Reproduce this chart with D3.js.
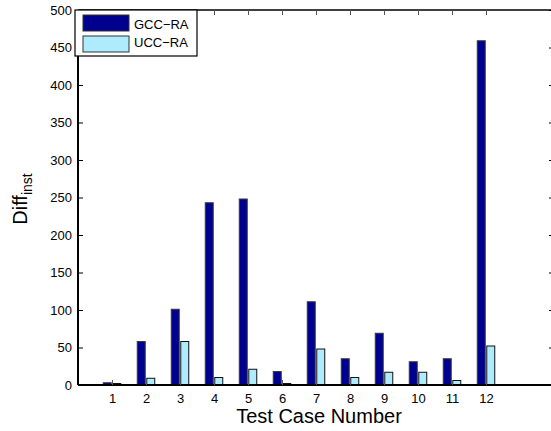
<!DOCTYPE html>
<html>
<head>
<meta charset="utf-8">
<script src="https://cdn.jsdelivr.net/npm/d3@7"></script>
<style>
  html, body { margin: 0; padding: 0; background: #fff; }
  svg { display: block; font-family: "Liberation Sans", Arial, Helvetica, sans-serif; }
</style>
</head>
<body>
<svg id="chart" width="551" height="431"></svg>
<script>
const categories = [1, 2, 3, 4, 5, 6, 7, 8, 9, 10, 11, 12];
const gccRA = [3, 58, 101, 243, 248, 18, 111, 35, 69, 31, 35, 459];
const uccRA = [2, 9, 58, 10, 21, 2, 48, 10, 17, 17, 6, 52];
const seriesNames = ["GCC\u2212RA", "UCC\u2212RA"];
const seriesColors = ["#00008F", "#AEEBFC"];
const yTicks = [0, 50, 100, 150, 200, 250, 300, 350, 400, 450, 500];

const svg = d3.select("#chart");
const L = 78, R = 554, T = 10, B = 385;

const x = d3.scaleLinear().domain([0, 14]).range([L, R]);
const y = d3.scaleLinear().domain([0, 500]).range([B, T]);

const barW = 0.235;
const off = 0.14;

const series = [gccRA, uccRA];
series.forEach((vals, si) => {
  svg.append("g").selectAll("rect")
    .data(categories.map((c, i) => ({ c, v: vals[i] })))
    .join("rect")
    .attr("x", d => x(d.c + (si === 0 ? -off : off) - barW / 2))
    .attr("width", x(barW) - x(0))
    .attr("y", d => y(d.v))
    .attr("height", d => y(0) - y(d.v))
    .attr("fill", seriesColors[si])
    .attr("stroke", si === 0 ? "#3a3a3a" : "#111")
    .attr("stroke-width", 1);
});

// axes lines
const axisG = svg.append("g");
axisG.append("line").attr("x1", L).attr("x2", R + 5).attr("y1", B).attr("y2", B)
  .attr("stroke", "#000").attr("stroke-width", 2);
axisG.append("line").attr("x1", L).attr("x2", R + 5).attr("y1", T).attr("y2", T)
  .attr("stroke", "#000").attr("stroke-width", 1.5);
axisG.append("line").attr("x1", L).attr("x2", L).attr("y1", T).attr("y2", B)
  .attr("stroke", "#000").attr("stroke-width", 2);

// y axis
const yAxis = d3.axisLeft(y).tickValues(yTicks).tickSizeInner(-5).tickSizeOuter(0).tickPadding(6);
const yg = svg.append("g").attr("transform", `translate(${L},0)`).call(yAxis);
yg.select(".domain").remove();
yg.selectAll("line").attr("stroke", "#000");
yg.selectAll("text").attr("font-size", 13).attr("font-family", "Liberation Sans, Arial, sans-serif").attr("fill", "#000");

// right ticks
const yr = d3.axisRight(y).tickValues(yTicks).tickSizeInner(-5).tickSizeOuter(0).tickFormat("");
const yrg = svg.append("g").attr("transform", `translate(${R},0)`).call(yr);
yrg.select(".domain").remove();
yrg.selectAll("line").attr("stroke", "#000");

// x axis
const xAxis = d3.axisBottom(x).tickValues(categories).tickSizeInner(-5).tickSizeOuter(0).tickPadding(9);
const xg = svg.append("g").attr("transform", `translate(0,${B})`).call(xAxis);
xg.select(".domain").remove();
xg.selectAll("line").attr("stroke", "#555");
xg.selectAll("text").attr("font-size", 13).attr("font-family", "Liberation Sans, Arial, sans-serif").attr("fill", "#000");

// top ticks
const xt = d3.axisTop(x).tickValues(categories).tickSizeInner(-5).tickSizeOuter(0).tickFormat("");
const xtg = svg.append("g").attr("transform", `translate(0,${T})`).call(xt);
xtg.select(".domain").remove();
xtg.selectAll("line").attr("stroke", "#555");

// axis titles
svg.append("text").attr("x", (L + R) / 2 + 3).attr("y", 423).attr("text-anchor", "middle")
  .attr("font-size", 20).text("Test Case Number");

const yl = svg.append("text").attr("transform", "translate(27,199) rotate(-90)")
  .attr("text-anchor", "middle").attr("font-size", 20);
yl.append("tspan").text("Diff");
yl.append("tspan").attr("dy", 5).attr("font-size", 14).text("inst");

// legend
const lg = svg.append("g");
lg.append("rect").attr("x", 75).attr("y", 10).attr("width", 122).attr("height", 46)
  .attr("fill", "#fff").attr("stroke", "#000").attr("stroke-width", 1.2);
seriesNames.forEach((n, i) => {
  lg.append("rect").attr("x", 83).attr("y", 15 + i * 21).attr("width", 46).attr("height", 16)
    .attr("fill", seriesColors[i]).attr("stroke", "#333").attr("stroke-width", 1);
  lg.append("text").attr("x", 134).attr("y", 29 + i * 18).attr("font-size", 13).text(n);
});
</script>
</body>
</html>
